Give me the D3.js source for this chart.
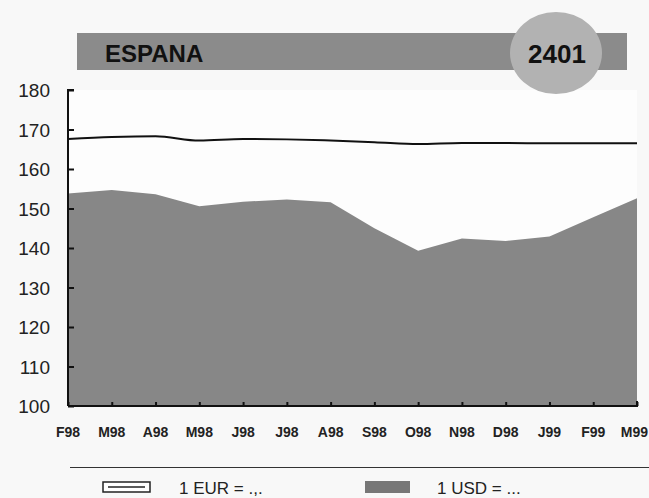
<!DOCTYPE html>
<html><head><meta charset="utf-8">
<script src="https://cdn.jsdelivr.net/npm/d3@7"></script>
<style>html,body{margin:0;padding:0;background:#f8f8f8;}svg{display:block;font-family:"Liberation Sans",Arial,sans-serif;}</style>
</head><body><svg id="c" width="649" height="498"></svg>
<script>
const months = ["F98","M98","A98","M98","J98","J98","A98","S98","O98","N98","D98","J99","F99","M99"];
const eur = [167.6,168.1,168.3,167.2,167.6,167.5,167.2,166.8,166.3,166.6,166.6,166.5,166.5,166.5];
const usd = [153.8,154.7,153.6,150.6,151.7,152.3,151.6,145.0,139.3,142.4,141.8,142.9,147.8,152.6];
const yTicks = [100,110,120,130,140,150,160,170,180];
const title = "ESPANA";
const code = "2401";
const legendLabels = ["1 EUR = .,.", "1 USD = ..."];

const svg = d3.select("#c");
const idx = months.map((d,i)=>i);
const x = d3.scaleLinear().domain([0, months.length-1]).range([68, 637]);
const y = d3.scaleLinear().domain([100,180]).range([406, 90]);

// plot background
svg.append("rect").attr("x",68).attr("y",90).attr("width",569).attr("height",316).attr("fill","#fdfdfd");

// header bar
svg.append("rect").attr("x",77).attr("y",33).attr("width",550).attr("height",37).attr("fill","#8b8b8b");
svg.append("text").attr("x",105).attr("y",62).attr("font-size",24).attr("font-weight","bold").attr("fill","#111").text(title);
svg.append("ellipse").attr("cx",556).attr("cy",53).attr("rx",46).attr("ry",41).attr("fill","#b2b2b2");
svg.append("text").attr("x",557).attr("y",63).attr("text-anchor","middle").attr("font-size",26).attr("font-weight","bold").attr("fill","#111").text(code);

// area
const area = d3.area().x((d,i)=>x(i)).y0(y(100)).y1(d=>y(d));
svg.append("path").datum(usd).attr("d",area).attr("fill","#878787");

// line
const line = d3.line().x((d,i)=>x(i)).y(d=>y(d)).curve(d3.curveMonotoneX);
svg.append("path").datum(eur).attr("d",line).attr("fill","none").attr("stroke","#111").attr("stroke-width",2);

// y axis
const ya = svg.append("g").attr("transform","translate(68,0)")
  .call(d3.axisRight(y).tickValues(yTicks).tickSize(6).tickFormat(""));
ya.select(".domain").attr("stroke","#111").attr("stroke-width",2).attr("d","M6,90H0V406");
ya.selectAll(".tick line").attr("stroke","#111").attr("stroke-width",2);
svg.selectAll(".ylab").data(yTicks).enter().append("text").attr("class","ylab")
  .attr("x",50).attr("y",d=>y(d)+7).attr("text-anchor","end").attr("font-size",19).attr("fill","#222").text(d=>d);

// x axis
const xa = svg.append("g").attr("transform","translate(0,406)")
  .call(d3.axisTop(x).tickValues(idx).tickSize(4).tickFormat(""));
xa.select(".domain").attr("stroke","#111").attr("stroke-width",2).attr("d","M68,0H637V-5");
xa.selectAll(".tick line").attr("stroke","#111").attr("stroke-width",2);
const last = months.length-1;
svg.selectAll(".xlab").data(months).enter().append("text").attr("class","xlab")
  .attr("x",(d,i)=> i===last ? 648 : x(i))
  .attr("y",437)
  .attr("text-anchor",(d,i)=> i===last ? "end" : "middle")
  .attr("font-size",14).attr("font-weight","bold").attr("fill","#222").text(d=>d);

// legend
svg.append("line").attr("x1",70).attr("x2",649).attr("y1",467.5).attr("y2",467.5).attr("stroke","#333").attr("stroke-width",1.2);
svg.append("rect").attr("x",103).attr("y",482).attr("width",47).attr("height",10).attr("fill","#fff").attr("stroke","#222").attr("stroke-width",1.5);
svg.append("line").attr("x1",108).attr("x2",145).attr("y1",487).attr("y2",487).attr("stroke","#222").attr("stroke-width",1.5);
svg.append("text").attr("x",179).attr("y",494).attr("font-size",17).attr("fill","#222").text(legendLabels[0]);
svg.append("rect").attr("x",365).attr("y",481).attr("width",45).attr("height",12).attr("fill","#777");
svg.append("text").attr("x",437).attr("y",494).attr("font-size",17).attr("fill","#222").text(legendLabels[1]);
</script></body></html>
